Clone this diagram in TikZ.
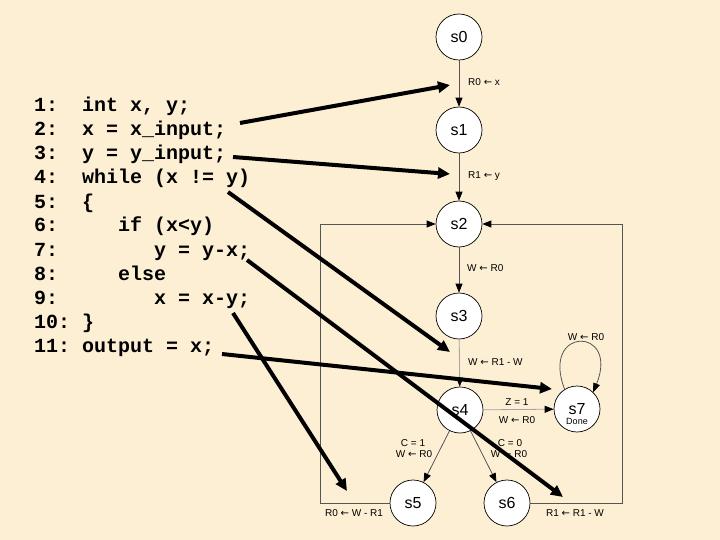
\documentclass[tikz,border=0pt]{standalone}
\usepackage{fontspec}
\setmainfont{Liberation Sans}
\newfontfamily\codefont{Liberation Mono}
\newfontfamily\symfont{DejaVu Sans}
\newcommand{\lfarrow}{{\symfont ←}}
\usetikzlibrary{arrows.meta}
\definecolor{paper}{RGB}{252,239,212}
\definecolor{edge}{RGB}{85,85,85}
\definecolor{pale}{RGB}{165,165,165}
\tikzset{
	state/.style={circle, draw=black, fill=white, line width=0.7pt, minimum size=46pt, inner sep=0pt, font=\fontsize{16}{16}\selectfont},
	code/.style={anchor=base west, inner sep=0pt, font=\codefont\bfseries\fontsize{20}{24}\selectfont},
	lbl/.style={inner sep=0pt, font=\fontsize{10}{11}\selectfont},
	trans/.style={draw=edge, line width=0.8pt, -{Triangle[length=9pt,width=7pt,color=black]}},
	hint/.style={line width=4pt, -{Triangle[length=12pt,width=11pt]}}
}
\begin{document}
\begin{tikzpicture}[x=1pt,y=-1pt]
		%Page
		\fill[paper] (0,0) rectangle (720,540);
		\useasboundingbox (0,0) rectangle (720,540);
		%Program lines
		\foreach \txt [count=\i] in {
			{1:~~int~x,~y;},
			{2:~~x~=~x\_input;},
			{3:~~y~=~y\_input;},
			{4:~~while~(x~!=~y)},
			{5:~~\{},
			{6:~~~~~if~(x<y)},
			{7:~~~~~~~~y~=~y-x;},
			{8:~~~~~else},
			{9:~~~~~~~~x~=~x-y;},
			{10:~\}},
			{11:~output~=~x;}}
		\node[code] (l\i) at (34,88+24*\i) {\txt};
		%States
		\node[state] (s0) at (459,37) {s0};
		\node[state] (s1) at (459,130) {s1};
		\node[state] (s2) at (459,224) {s2};
		\node[state] (s3) at (459,316) {s3};
		\node[state] (s4) at (460,410) {s4};
		\node[state, label={[lbl, font=\fontsize{9}{9}\selectfont, yshift=-12pt]center:Done}] (s7) at (577,409) {s7};
		\node[state] (s5) at (413,503) {s5};
		\node[state] (s6) at (507,503) {s6};
		%Transitions
		\draw[trans] (s0) -- (s1);
		\draw[trans] (s1) -- (s2);
		\draw[trans] (s2) -- (s3);
		\draw[trans, draw=pale] (s3) -- (s4);
		\draw[trans, draw=pale] (s4) -- (s7);
		\draw[trans] (s4) -- (s5);
		\draw[trans] (s4) -- (s6);
		\draw[trans] (s7.122) .. controls (540,326) and (620,326) .. (s7.46);
		\coordinate (boxl) at (320,0);
		\coordinate (boxr) at (622,0);
		\draw[trans] (s5.west) -- (s5.west -| boxl) -- (s2.west -| boxl) -- (s2.west);
		\draw[trans] (s6.east) -- (s6.east -| boxr) -- (s2.east -| boxr) -- (s2.east);
		%Actions
		\node[lbl, anchor=west] (a01) at (468,82) {R0 \lfarrow{} x};
		\node[lbl, anchor=west] (a12) at (468,176) {R1 \lfarrow{} y};
		\node[lbl, anchor=west] (a23) at (467,268) {W \lfarrow{} R0};
		\node[lbl, anchor=west] (a34) at (468,362) {W \lfarrow{} R1 - W};
		\node[lbl] (a47) at (517,402) {Z = 1};
		\node[lbl] (b47) at (517,420) {W \lfarrow{} R0};
		\node[lbl] (a77) at (586,337) {W \lfarrow{} R0};
		\node[lbl] (a45) at (413,443) {C = 1};
		\node[lbl] (b45) at (414,454) {W \lfarrow{} R0};
		\node[lbl] (a46) at (510,443) {C = 0};
		\node[lbl] (b46) at (509,454) {W \lfarrow{} R0};
		\node[lbl] (a52) at (354,513) {R0 \lfarrow{} W - R1};
		\node[lbl] (a62) at (575,513) {R1 \lfarrow{} R1 - W};
		%Pointers from code to states
		\coordinate (h1a) at (240,123);
		\coordinate (h1b) at (450,85);
		\coordinate (h2a) at (233,157);
		\coordinate (h2b) at (450,174);
		\coordinate (h3a) at (228,192);
		\coordinate (h3b) at (450,352);
		\coordinate (h4a) at (247,260);
		\coordinate (h4b) at (563,497);
		\coordinate (h5a) at (233,313);
		\coordinate (h5b) at (347,491);
		\coordinate (h6a) at (222,354);
		\coordinate (h6b) at (552,389);
		\foreach \k in {1,...,6}
		\draw[hint] (h\k a) -- (h\k b);
\end{tikzpicture}
\end{document}
